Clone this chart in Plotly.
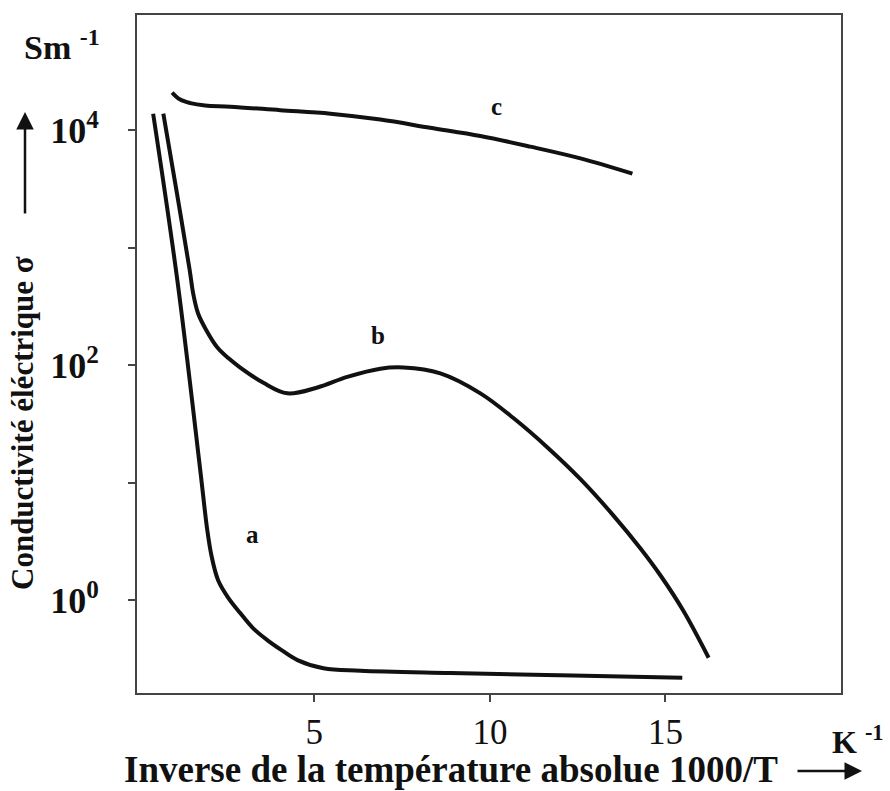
import plotly.graph_objects as go

# Curve a  (x = 1000/T, log10 of conductivity)
a_x = [0.41, 1.10, 1.75, 1.95, 2.07, 2.26, 2.55, 2.89, 3.26, 3.66, 4.09, 4.52, 5.26, 6.31, 8.87, 12.01, 15.48]
a_log = [4.14, 2.72, 1.11, 0.60, 0.38, 0.17, 0.02, -0.11, -0.24, -0.34, -0.43, -0.51, -0.58, -0.60, -0.62, -0.64, -0.66]
# Curve b
b_x = [0.70, 1.10, 1.45, 1.55, 1.69, 1.92, 2.24, 2.55, 2.89, 3.55, 4.23, 5.09, 5.94, 6.88, 7.54, 8.59,
       9.73, 10.67, 11.64, 12.58, 13.52, 14.29, 14.86, 15.51, 16.23]
b_log = [4.14, 3.44, 2.81, 2.61, 2.44, 2.30, 2.15, 2.06, 1.98, 1.85, 1.76, 1.81, 1.90, 1.97, 1.98, 1.93,
         1.76, 1.55, 1.30, 1.03, 0.72, 0.44, 0.21, -0.09, -0.49]
# Curve c
c_x = [0.95, 1.18, 1.47, 1.89, 2.61, 4.03, 5.46, 6.88, 8.30, 9.73, 11.15, 12.58, 14.06]
c_log = [4.32, 4.26, 4.23, 4.21, 4.20, 4.17, 4.14, 4.09, 4.02, 3.95, 3.86, 3.76, 3.63]

y_tickvals = [1, 10, 100, 1000, 10000]
y_ticktext = ["<b>10<sup>0</sup></b>", "", "<b>10<sup>2</sup></b>", "", "<b>10<sup>4</sup></b>"]
x_tickvals = [5, 10, 15]
x_ticktext = ["5", "10", "15"]

FONT = "Liberation Serif, Times New Roman, serif"

fig = go.Figure()
for xs, ls in [(a_x, a_log), (b_x, b_log), (c_x, c_log)]:
    fig.add_trace(go.Scatter(
        x=xs, y=[10 ** v for v in ls], mode="lines",
        line=dict(color="#111111", width=4, shape="spline", smoothing=1.0),
        showlegend=False, hoverinfo="skip"))

fig.update_layout(
    width=890, height=791,
    margin=dict(l=137, r=49, t=15, b=98),
    paper_bgcolor="white", plot_bgcolor="white",
    font=dict(family=FONT, color="#111111"),
    xaxis=dict(range=[-0.05, 20.0], tickvals=x_tickvals, ticktext=x_ticktext,
               showgrid=False, zeroline=False, showline=True, mirror=True,
               linecolor="#444444", linewidth=2, ticks="outside", ticklen=7,
               tickwidth=2, tickcolor="#444444", ticklabelstandoff=0,
               tickfont=dict(size=35, family=FONT)),
    yaxis=dict(type="log", range=[-0.79, 4.98], tickvals=y_tickvals, ticktext=y_ticktext,
               showgrid=False, zeroline=False, showline=True, mirror=True,
               linecolor="#444444", linewidth=2, ticks="outside", ticklen=7,
               tickwidth=2, tickcolor="#444444", ticklabelstandoff=22,
               tickfont=dict(size=36, family=FONT)),
)

def px(xp, yp):
    return (xp - 137) / 704, (693 - yp) / 678

ann = []
# curve labels
for t, xx, yy in [("a", 3.23, 0.56), ("b", 6.82, 2.25), ("c", 10.18, 4.2)]:
    ann.append(dict(text="<b>%s</b>" % t, x=xx, y=yy, xref="x", yref="y",
                    showarrow=False, font=dict(size=25, family=FONT)))

def label(text, xp, yp, size, angle=0):
    x0, y0 = px(xp, yp)
    ann.append(dict(text=text, x=x0, y=y0, xref="paper", yref="paper", showarrow=False,
                    xanchor="center", yanchor="middle", textangle=angle,
                    font=dict(size=size, family=FONT)))

label("<b>Sm <sup>-1</sup></b>", 62, 45, 34)
label("<b>K <sup>-1</sup></b>", 858, 740, 32)
label("<b>Conductivité éléctrique σ</b>", 22, 423, 31, -90)
label("<b>Inverse de la température absolue 1000/T</b>", 451, 769, 37)

# arrows
x0, y0 = px(25, 112)
ann.append(dict(text="", x=x0, y=y0, xref="paper", yref="paper", showarrow=True,
                ax=0, ay=103, arrowhead=2, arrowsize=1.4, arrowwidth=2.5, arrowcolor="#111111"))
x0, y0 = px(862, 771)
ann.append(dict(text="", x=x0, y=y0, xref="paper", yref="paper", showarrow=True,
                ax=-66, ay=0, arrowhead=2, arrowsize=1.4, arrowwidth=2.5, arrowcolor="#111111"))
fig.update_layout(annotations=ann)

fig.write_html("out.html")
